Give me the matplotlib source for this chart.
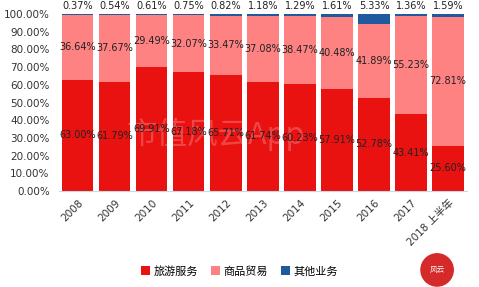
import matplotlib
matplotlib.use("Agg")
import matplotlib.pyplot as plt
from matplotlib.ticker import FuncFormatter
import numpy as np

plt.rcParams['font.family'] = ['DejaVu Sans', 'Noto Sans CJK SC']

categories = ['2008', '2009', '2010', '2011', '2012', '2013', '2014', '2015', '2016', '2017', '2018 上半年']
travel = [63.00, 61.79, 69.91, 67.18, 65.71, 61.74, 60.23, 57.91, 52.78, 43.41, 25.60]
goods = [36.64, 37.67, 29.49, 32.07, 33.47, 37.08, 38.47, 40.48, 41.89, 55.23, 72.81]
other = [0.37, 0.54, 0.61, 0.75, 0.82, 1.18, 1.29, 1.61, 5.33, 1.36, 1.59]
series_names = ['旅游服务', '商品贸易', '其他业务']

c_travel = '#EA1111'
c_goods = '#FF8282'
c_other = '#1F5A9E'
txt = '#222222'

fig = plt.figure(figsize=(4.79, 2.87), dpi=100)
ax = fig.add_axes([0.124, 0.334, 0.850, 0.617])

x = np.arange(len(categories))
t = np.array(travel); g = np.array(goods); o = np.array(other)
w = 0.84
ax.bar(x, t, w, color=c_travel, label=series_names[0], zorder=2)
ax.bar(x, g, w, bottom=t, color=c_goods, label=series_names[1], zorder=2)
ax.bar(x, o, w, bottom=t + g, color=c_other, label=series_names[2], zorder=2)

for i in range(len(x)):
    ax.text(x[i], t[i] / 2, f'{t[i]:.2f}%', ha='center', va='center', fontsize=7, color=txt, zorder=4)
    ax.text(x[i], t[i] + g[i] / 2, f'{g[i]:.2f}%', ha='center', va='center', fontsize=7, color=txt, zorder=4)
    ax.text(x[i], 101.5, f'{o[i]:.2f}%', ha='center', va='bottom', fontsize=7, color=txt, zorder=4)

ax.set_xlim(-0.5, len(x) - 0.5)
ax.set_ylim(0, 100)
ax.set_yticks(np.arange(0, 101, 10))
ax.yaxis.set_major_formatter(FuncFormatter(lambda v, p: f'{v:.2f}%'))
ax.set_xticks(x)
ax.set_xticklabels(categories, rotation=45, ha='right', rotation_mode='anchor', fontsize=7.5, color='#333333')
ax.tick_params(axis='y', labelsize=7.5, colors='#333333', length=0, pad=7)
ax.tick_params(axis='x', length=0, pad=5)
for s in ['top', 'right', 'left']:
    ax.spines[s].set_visible(False)
ax.spines['bottom'].set_color('#C8D8E4')
ax.spines['bottom'].set_linewidth(0.8)

# faint watermark between bars and labels
ax.text(0.45, 0.53, '市值风云App', fontsize=22, color='white', alpha=0.22,
        ha='center', va='center', family=['Noto Sans CJK SC'],
        transform=fig.transFigure, zorder=3)

handles, labels = ax.get_legend_handles_labels()
fig.legend(handles, labels, loc='center', bbox_to_anchor=(0.5, 0.055), ncol=3, frameon=False,
           handlelength=0.8, handleheight=0.8, handletextpad=0.3, columnspacing=1.2,
           prop={'family': ['Noto Sans CJK SC'], 'size': 8})

# logo
logo_ax = fig.add_axes([0.875, -0.003, 0.075, 0.125])
logo_ax.add_patch(plt.Circle((0.5, 0.5), 0.45, color='#D42A2A'))
logo_ax.text(0.5, 0.5, '风云', color='white', fontsize=5.5, ha='center', va='center', family=['Noto Sans CJK SC'])
logo_ax.set_xlim(0, 1); logo_ax.set_ylim(0, 1)
logo_ax.set_aspect('equal')
logo_ax.axis('off')

fig.savefig('out.png', dpi=100)
